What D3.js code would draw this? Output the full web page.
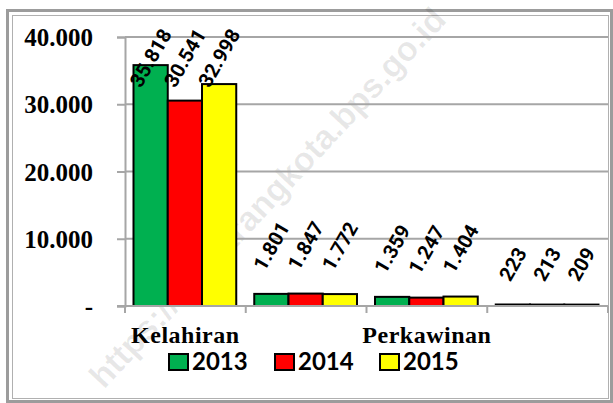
<!DOCTYPE html>
<html>
<head>
<meta charset="utf-8">
<script src="https://cdn.jsdelivr.net/npm/d3@7"></script>
<style>
  body { margin: 0; background: #fff; }
  svg { display: block; }
</style>
</head>
<body>
<script>
// categories (only 1st and 3rd labels are shown in the original)
const categories = ['Kelahiran', 'Kematian', 'Perkawinan', 'Perceraian'];
const shownLabels = ['Kelahiran', '', 'Perkawinan', ''];
const years = ['2013', '2014', '2015'];
const values2013 = [35818, 1801, 1359, 223];
const values2014 = [30541, 1847, 1247, 213];
const values2015 = [32998, 1772, 1404, 209];
const valueLabels2013 = ['35.818', '1.801', '1.359', '223'];
const valueLabels2014 = ['30.541', '1.847', '1.247', '213'];
const valueLabels2015 = ['32.998', '1.772', '1.404', '209'];
const yTicks = [0, 10000, 20000, 30000, 40000];
const yTickLabels = ['-', '10.000', '20.000', '30.000', '40.000'];
const colors = ['#00b050', '#ff0000', '#ffff00'];

const W = 613, H = 403;
const plotLeft = 125, plotRight = 608, plotTop = 37, plotBottom = 306;

const svg = d3.select('body').append('svg')
  .attr('width', W)
  .attr('height', H);

// frame
svg.append('rect')
  .attr('x', 7.5).attr('y', 10.5).attr('width', 604).attr('height', 391)
  .attr('fill', '#fff').attr('stroke', '#9c9c9c').attr('stroke-width', 3);
svg.append('rect')
  .attr('x', 12.5).attr('y', 15.5).attr('width', 596).attr('height', 383)
  .attr('fill', 'none').attr('stroke', '#b0b0b0').attr('stroke-width', 1);

// watermark
svg.append('text')
  .attr('transform', 'translate(104,390) rotate(-47)')
  .attr('font-family', 'Liberation Sans, Arial, sans-serif')
  .attr('font-weight', 'bold')
  .attr('font-size', 34)
  .attr('fill', '#000')
  .attr('fill-opacity', 0.09)
  .text('https://semarangkota.bps.go.id');

const y = d3.scaleLinear().domain([0, 40000]).range([plotBottom, plotTop]);
const x0 = d3.scaleBand().domain(categories).range([plotLeft, plotRight]);
const x1 = d3.scaleBand().domain(years).range([8.5, x0.bandwidth() - 9.5]);

// gridlines
svg.append('g')
  .selectAll('line')
  .data(yTicks.slice(1))
  .join('line')
  .attr('x1', plotLeft).attr('x2', plotRight)
  .attr('y1', d => y(d)).attr('y2', d => y(d))
  .attr('stroke', '#a6a6a6').attr('stroke-width', 2);

// y axis
const yAxis = svg.append('g')
  .attr('transform', `translate(${plotLeft},0)`)
  .call(d3.axisLeft(y).tickValues(yTicks).tickSize(8).tickPadding(24)
    .tickFormat((d, i) => yTickLabels[i]));
yAxis.select('.domain').attr('stroke', '#a6a6a6').attr('stroke-width', 2);
yAxis.selectAll('.tick line').attr('stroke', '#a6a6a6').attr('stroke-width', 2);
yAxis.selectAll('.tick text')
  .attr('font-family', 'Liberation Serif, Times New Roman, serif')
  .attr('font-weight', 'bold')
  .attr('font-size', 25)
  .attr('fill', '#000')
  .attr('dy', '0.34em');

// bars
const series = [values2013, values2014, values2015];
const seriesLabels = [valueLabels2013, valueLabels2014, valueLabels2015];
const barData = [];
categories.forEach((c, ci) => {
  years.forEach((yr, si) => {
    barData.push({ cat: c, year: yr, si: si, value: series[si][ci], label: seriesLabels[si][ci] });
  });
});

svg.append('g')
  .selectAll('rect')
  .data(barData)
  .join('rect')
  .attr('x', d => x0(d.cat) + x1(d.year))
  .attr('y', d => y(d.value))
  .attr('width', x1.bandwidth())
  .attr('height', d => y(0) - y(d.value))
  .attr('fill', d => colors[d.si])
  .attr('stroke', '#000')
  .attr('stroke-width', 2);

// x axis
const xAxis = svg.append('g')
  .attr('transform', `translate(0,${plotBottom})`);
xAxis.append('line')
  .attr('x1', plotLeft - 8).attr('x2', plotRight)
  .attr('stroke', '#a6a6a6').attr('stroke-width', 2);
xAxis.selectAll('.sep')
  .data(categories.concat(['end']))
  .join('line')
  .attr('class', 'sep')
  .attr('x1', (d, i) => plotLeft + i * x0.step())
  .attr('x2', (d, i) => plotLeft + i * x0.step())
  .attr('y1', 0).attr('y2', 7)
  .attr('stroke', '#a6a6a6').attr('stroke-width', 2);
xAxis.selectAll('.catlabel')
  .data(categories)
  .join('text')
  .attr('class', 'catlabel')
  .attr('x', d => x0(d) + x0.bandwidth() / 2)
  .attr('y', 37)
  .attr('text-anchor', 'middle')
  .attr('font-family', 'Liberation Serif, Times New Roman, serif')
  .attr('font-weight', 'bold')
  .attr('font-size', 24)
  .attr('letter-spacing', 0.5)
  .attr('fill', '#000')
  .text((d, i) => shownLabels[i]);

// value labels, rotated, bbox centred over the bar
const angle = 60;
const labels = svg.append('g')
  .selectAll('text')
  .data(barData)
  .join('text')
  .attr('font-family', 'Roboto, sans-serif')
  .attr('font-weight', 'bold')
  .attr('font-size', 20)
  .attr('fill', '#000')
  .text(d => d.label);

labels.each(function (d) {
  const w = this.getComputedTextLength();
  const h = 14;
  const c = Math.cos(angle * Math.PI / 180);
  const s = Math.sin(angle * Math.PI / 180);
  const cx = x0(d.cat) + x1(d.year) + x1.bandwidth() / 2;
  const sx = cx - (w * c - h * s) / 2;
  const sy = Math.max(y(d.value) - 22, 27 + w * s + h * c);
  d3.select(this).attr('transform', `translate(${sx},${sy}) rotate(${-angle})`);
});

// legend
const legendX = [169, 275, 380];
const legend = svg.append('g');
years.forEach((yr, i) => {
  legend.append('rect')
    .attr('x', legendX[i]).attr('y', 354)
    .attr('width', 19).attr('height', 16)
    .attr('fill', colors[i])
    .attr('stroke', '#000').attr('stroke-width', 2);
  legend.append('text')
    .attr('x', legendX[i] + 23).attr('y', 370)
    .attr('font-family', 'Lato, Open Sans, sans-serif')
    .attr('font-weight', 'bold')
    .attr('font-size', 24)
    .attr('fill', '#000')
    .text(yr);
});
</script>
</body>
</html>
